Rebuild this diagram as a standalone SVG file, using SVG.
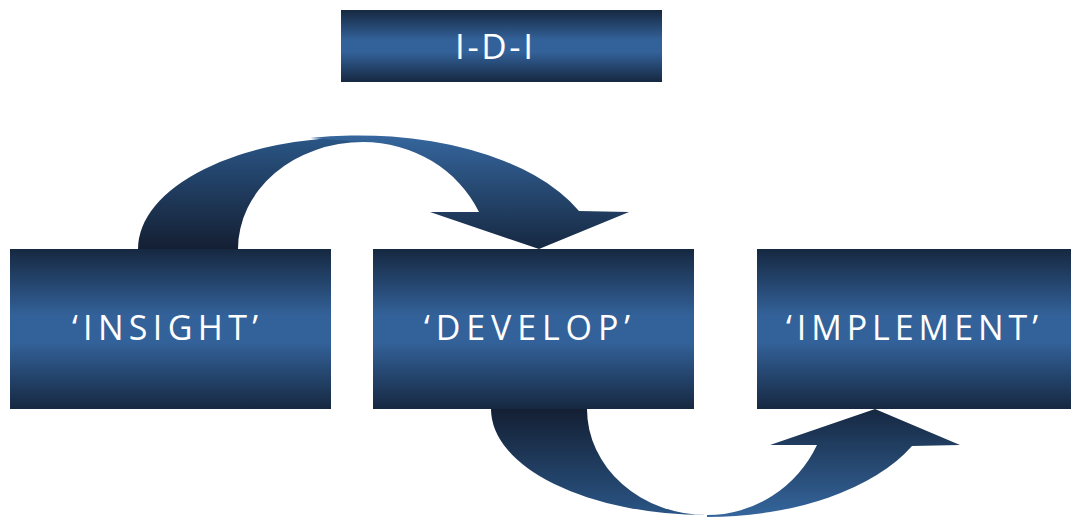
<svg xmlns="http://www.w3.org/2000/svg" width="1071" height="517" viewBox="0 0 1071 517">
  <style>
    .lbl { font-family: "Open Sans", "Lato", "Liberation Sans", sans-serif; fill: #ffffff; }
    .box { fill: url(#boxGrad); }
  </style>
  <defs>
    <linearGradient id="boxGrad" x1="0" y1="0" x2="0" y2="1">
      <stop offset="0" stop-color="#162841"/>
      <stop offset="0.42" stop-color="#33629a"/>
      <stop offset="0.58" stop-color="#33629a"/>
      <stop offset="1" stop-color="#162841"/>
    </linearGradient>
    <linearGradient id="backDown" x1="0" y1="0" x2="0" y2="1">
      <stop offset="0" stop-color="#2a5686"/>
      <stop offset="1" stop-color="#141f33"/>
    </linearGradient>
    <linearGradient id="frontDown" x1="0" y1="0" x2="0" y2="1">
      <stop offset="0" stop-color="#35669d"/>
      <stop offset="1" stop-color="#162841"/>
    </linearGradient>
    <linearGradient id="backUp" x1="0" y1="0" x2="0" y2="1">
      <stop offset="0" stop-color="#141f33"/>
      <stop offset="1" stop-color="#2a5686"/>
    </linearGradient>
    <linearGradient id="frontUp" x1="0" y1="0" x2="0" y2="1">
      <stop offset="0" stop-color="#162841"/>
      <stop offset="1" stop-color="#35669d"/>
    </linearGradient>
  </defs>

  <g id="connectors">
    <!-- curved arrow: INSIGHT -> DEVELOP -->
    <g id="arrow-insight-develop">
      <path fill="url(#backDown)" d="M138,249 A222,112 0 0 1 363,137 L363,142 A125,107 0 0 0 238,249 Z"/>
      <path fill="url(#frontDown)" d="M310,138 A240,125 0 0 1 579,211 L629,212 L539,249 L430,212 L479,212 A128,120 0 0 0 363,142 Z"/>
    </g>
    <!-- curved arrow: DEVELOP -> IMPLEMENT -->
    <g id="arrow-develop-implement">
      <path fill="url(#backUp)" d="M491,409 A216,106 0 0 0 707,515 L707,517 L707,515 A120,106 0 0 1 587,409 Z"/>
      <path fill="url(#frontUp)" d="M707,517 A228,125 0 0 0 912,446 L960,445 L875,409 L770,445 L817,445 A122,123 0 0 1 707,515 Z"/>
    </g>
  </g>

  <g id="title">
    <rect class="box" x="341" y="10" width="321" height="72"/>
    <text class="lbl" x="455" y="59" font-size="35" textLength="78" lengthAdjust="spacing">I-D-I</text>
  </g>

  <g id="node-insight">
    <rect class="box" x="10" y="249" width="321" height="160"/>
    <text class="lbl" x="72" y="340" font-size="34" textLength="186" lengthAdjust="spacing">‘INSIGHT’</text>
  </g>

  <g id="node-develop">
    <rect class="box" x="373" y="249" width="321" height="160"/>
    <text class="lbl" x="424" y="340" font-size="34" textLength="206" lengthAdjust="spacing">‘DEVELOP’</text>
  </g>

  <g id="node-implement">
    <rect class="box" x="757" y="249" width="314" height="160"/>
    <text class="lbl" x="786" y="340" font-size="34" textLength="252" lengthAdjust="spacing">‘IMPLEMENT’</text>
  </g>
</svg>
